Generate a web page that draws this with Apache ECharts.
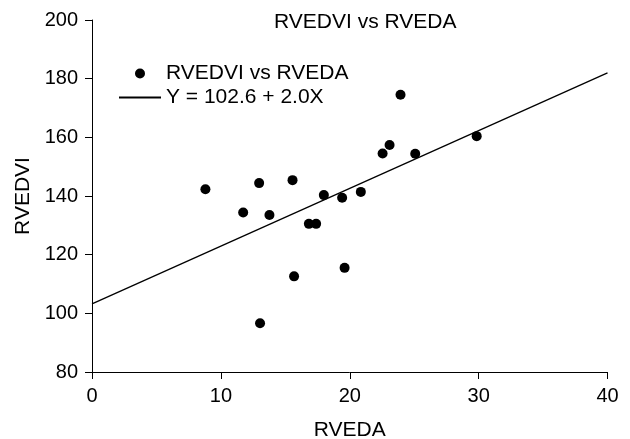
<!DOCTYPE html>
<html>
<head>
<meta charset="utf-8">
<script src="https://cdn.jsdelivr.net/npm/echarts@6/dist/echarts.min.js"></script>
<style>
  html, body { margin: 0; padding: 0; background: #fff; }
  #chart { width: 630px; height: 439px; }
</style>
</head>
<body>
<div id="chart"></div>
<script>
  // RVEDA (x) and RVEDVI (y) for each patient
  const rveda = [8.8, 12.97, 15.56, 11.73, 13.77, 17.99, 19.41, 20.86, 16.83, 17.39,
    19.6, 15.68, 13.04, 23.94, 23.09, 22.55, 25.08, 29.85];
  const rvedvi = [142.3, 144.4, 145.4, 134.4, 133.5, 140.3, 139.4, 141.4, 130.5, 130.5,
    115.5, 112.6, 96.6, 174.5, 157.4, 154.5, 154.4, 160.4];
  // regression line ends, Y = 102.6 + 2.0X
  const fitX = [0, 40];
  const fitY = [103.2, 182.0];
  const xTicks = [0, 10, 20, 30, 40];
  const yTicks = [80, 100, 120, 140, 160, 180, 200];

  const font = 'Liberation Sans, Arial, sans-serif';
  const chart = echarts.init(document.getElementById('chart'));

  chart.setOption({
    animation: false,
    backgroundColor: '#fff',
    title: {
      text: 'RVEDVI vs RVEDA',
      left: 269,
      top: 7,
      textStyle: { fontFamily: font, fontSize: 21, fontWeight: 'normal', color: '#000' }
    },
    legend: {
      orient: 'vertical',
      left: 113,
      top: 58,
      itemWidth: 42,
      itemHeight: 10,
      itemGap: 3,
      textStyle: { fontFamily: font, fontSize: 21, color: '#000' },
      data: [
        { name: 'RVEDVI vs RVEDA', icon: 'circle' },
        // only the line in the key, no marker
        { name: 'Y = 102.6 + 2.0X', itemStyle: { opacity: 0 } }
      ]
    },
    grid: { left: 92, right: 22.5, top: 20, bottom: 67, outerBoundsMode: 'none' },
    xAxis: {
      type: 'value',
      min: xTicks[0],
      max: xTicks[xTicks.length - 1],
      interval: 10,
      name: 'RVEDA',
      nameLocation: 'middle',
      nameGap: 48,
      nameTextStyle: { fontFamily: font, fontSize: 21, color: '#000' },
      axisLine: { onZero: false, lineStyle: { color: '#000', width: 1 } },
      axisTick: { length: 7, lineStyle: { color: '#000' } },
      axisLabel: { margin: 14, fontFamily: font, fontSize: 20, color: '#000' },
      splitLine: { show: false }
    },
    yAxis: {
      type: 'value',
      min: yTicks[0],
      max: yTicks[yTicks.length - 1],
      interval: 20,
      name: 'RVEDVI',
      nameLocation: 'middle',
      nameGap: 57,
      nameTextStyle: { fontFamily: font, fontSize: 21, color: '#000' },
      axisLine: { show: true, onZero: false, lineStyle: { color: '#000', width: 1 } },
      axisTick: { show: true, length: 7, lineStyle: { color: '#000' } },
      axisLabel: { margin: 14, fontFamily: font, fontSize: 20, color: '#000' },
      splitLine: { show: false }
    },
    series: [
      {
        name: 'RVEDVI vs RVEDA',
        type: 'scatter',
        symbol: 'circle',
        symbolSize: 10,
        itemStyle: { color: '#000', opacity: 1 },
        data: rveda.map((x, i) => [x, rvedvi[i]])
      },
      {
        name: 'Y = 102.6 + 2.0X',
        type: 'line',
        symbol: 'none',
        showSymbol: false,
        lineStyle: { color: '#000', width: 1.3 },
        itemStyle: { color: '#000' },
        data: fitX.map((x, i) => [x, fitY[i]])
      }
    ]
  });
</script>
</body>
</html>
